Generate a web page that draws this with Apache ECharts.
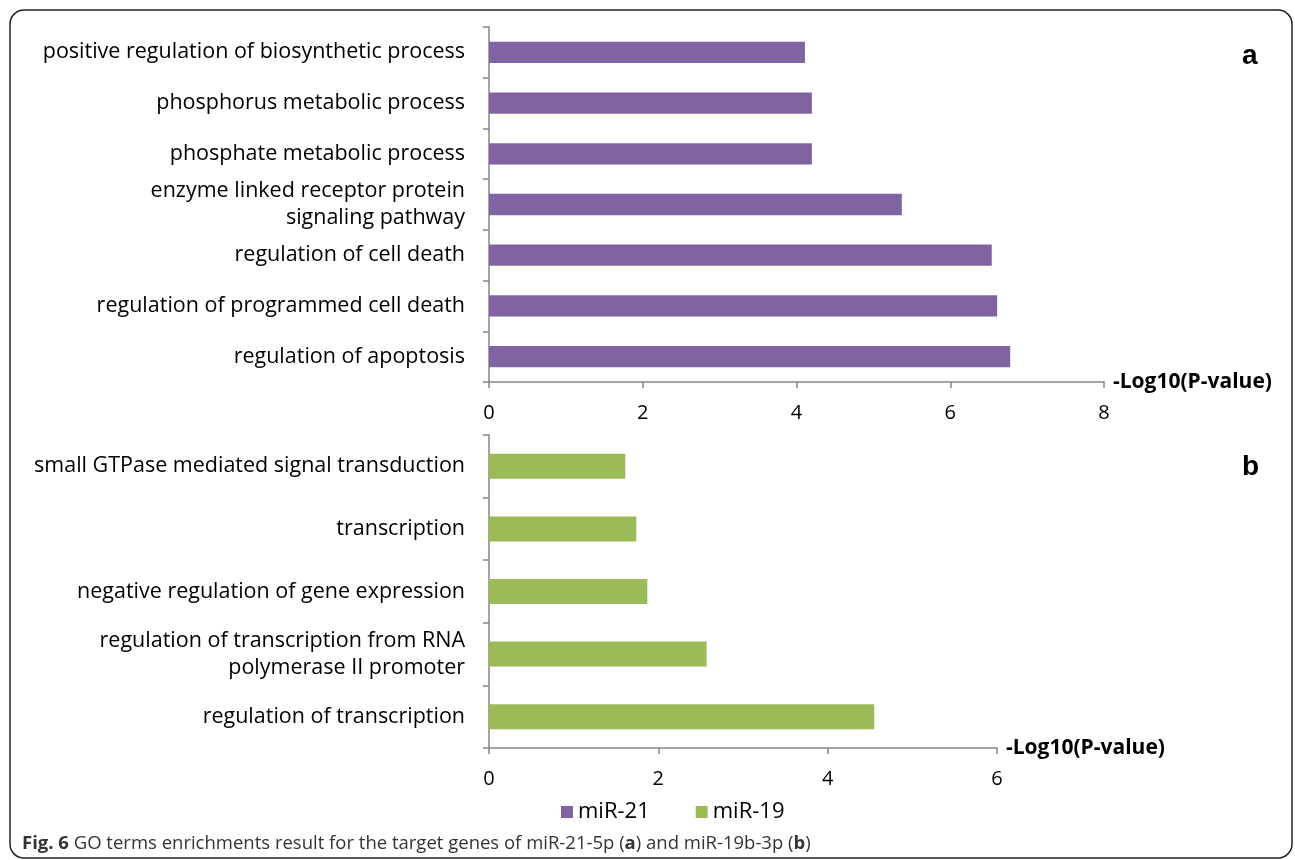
<!DOCTYPE html>
<html>
<head>
<meta charset="utf-8">
<title>GO terms enrichment</title>
<script src="https://cdn.jsdelivr.net/npm/echarts@6/dist/echarts.min.js"></script>
<style>
  html, body { margin: 0; padding: 0; background: #fff; }
  #chart { width: 1295px; height: 860px; }
</style>
</head>
<body>
<div id="chart"></div>
<script>
// panel a: miR-21 (top to bottom)
var termsA = [
  'positive regulation of biosynthetic process',
  'phosphorus metabolic process',
  'phosphate metabolic process',
  'enzyme linked receptor protein\nsignaling pathway',
  'regulation of cell death',
  'regulation of programmed cell death',
  'regulation of apoptosis'
];
var valuesA = [4.11, 4.2, 4.2, 5.37, 6.54, 6.61, 6.78];

// panel b: miR-19 (top to bottom)
var termsB = [
  'small GTPase mediated signal transduction',
  'transcription',
  'negative regulation of gene expression',
  'regulation of transcription from RNA\npolymerase II promoter',
  'regulation of transcription'
];
var valuesB = [1.61, 1.74, 1.87, 2.57, 4.55];

var seriesNames = ['miR-21', 'miR-19'];
var axisTitle = '-Log10(P-value)';

window.onload = function () {
  var chart = echarts.init(document.getElementById('chart'));
  var axisGray = '#868686';
  var font = '"Open Sans", "Noto Sans", sans-serif';

  function valueAxis(gridIndex, max) {
    return {
      type: 'value',
      gridIndex: gridIndex,
      min: 0,
      max: max,
      interval: 2,
      name: axisTitle,
      nameLocation: 'end',
      nameGap: 9,
      nameTextStyle: { fontFamily: font, fontSize: 21, fontWeight: 'bold', color: '#000' },
      axisLine: { show: true, lineStyle: { color: axisGray, width: 1.5 } },
      axisTick: { show: true, length: 6, lineStyle: { color: axisGray, width: 1.5 } },
      axisLabel: { margin: 21, fontFamily: font, fontSize: 20, color: '#000' },
      splitLine: { show: false }
    };
  }

  function catAxis(gridIndex, data) {
    return {
      type: 'category',
      gridIndex: gridIndex,
      data: data,
      inverse: true,
      axisLine: { show: true, lineStyle: { color: axisGray, width: 1.5 } },
      axisTick: { show: true, length: 6, lineStyle: { color: axisGray, width: 1.5 } },
      axisLabel: { margin: 24, fontFamily: font, fontSize: 21.5, color: '#000', lineHeight: 27, align: 'right' }
    };
  }

  var option = {
    animation: false,
    legend: {
      data: seriesNames,
      left: 556,
      top: 796,
      icon: 'rect',
      itemWidth: 12,
      itemHeight: 12,
      itemGap: 46,
      textStyle: { fontFamily: font, fontSize: 22, color: '#000' }
    },
    grid: [
      { left: 489, top: 27, width: 615, height: 355 },
      { left: 489, top: 435, width: 508, height: 313 }
    ],
    xAxis: [valueAxis(0, 8), valueAxis(1, 6)],
    yAxis: [catAxis(0, termsA), catAxis(1, termsB)],
    series: [
      {
        name: seriesNames[0],
        type: 'bar',
        xAxisIndex: 0,
        yAxisIndex: 0,
        barCategoryGap: '58%',
        itemStyle: { color: '#8064A2' },
        data: valuesA
      },
      {
        name: seriesNames[1],
        type: 'bar',
        xAxisIndex: 1,
        yAxisIndex: 1,
        barCategoryGap: '60%',
        itemStyle: { color: '#9BBB59' },
        data: valuesB
      }
    ],
    graphic: [
      {
        type: 'rect',
        shape: { x: 10, y: 10, width: 1282, height: 848, r: 14 },
        style: { fill: 'none', stroke: '#222', lineWidth: 1.5 },
        z: -1
      },
      {
        type: 'text',
        left: 1242,
        top: 42,
        style: { text: 'a', font: 'bold 28px "Liberation Sans", Arial, sans-serif', fill: '#000' }
      },
      {
        type: 'text',
        left: 1242,
        top: 453,
        style: { text: 'b', font: 'bold 28px "Liberation Sans", Arial, sans-serif', fill: '#000' }
      },
      {
        type: 'text',
        left: 22,
        top: 834,
        style: {
          text: '{b|Fig. 6} GO terms enrichments result for the target genes of miR-21-5p ({b|a}) and miR-19b-3p ({b|b})',
          font: '18.5px "Open Sans", sans-serif',
          fill: '#333',
          rich: {
            b: { fontWeight: 'bold', fontSize: 18.5, fontFamily: 'Open Sans', fill: '#333' }
          }
        }
      }
    ]
  };
  chart.setOption(option);
};
</script>
</body>
</html>
